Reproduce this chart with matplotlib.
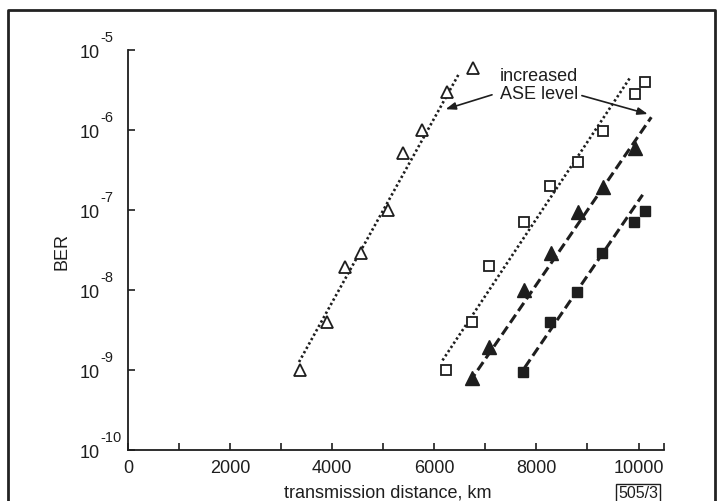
import numpy as np
import matplotlib
matplotlib.use('Agg')
import matplotlib.pyplot as plt
from matplotlib.lines import Line2D
from matplotlib.ticker import FixedLocator, FixedFormatter, NullLocator

plt.rcParams['font.family'] = ['Liberation Sans', 'DejaVu Sans']

INK = '#1e1e1e'

# open triangles
tri_open_km = [3370, 3890, 4250, 4560, 5090, 5380, 5750, 6240, 6750]
tri_open_logber = [-9.0, -8.40, -7.71, -7.54, -7.0, -6.29, -6.0, -5.52, -5.22]
tri_open_fit_km = [3350, 6480]
tri_open_fit_logber = [-8.90, -5.30]

# open squares
sq_open_km = [6220, 6730, 7080, 7750, 8260, 8810, 9300, 9940, 10120]
sq_open_logber = [-9.0, -8.40, -7.70, -7.15, -6.70, -6.40, -6.01, -5.55, -5.40]
sq_open_fit_km = [6160, 9840]
sq_open_fit_logber = [-8.88, -5.34]

# filled triangles
tri_fill_km = [6730, 7080, 7750, 8280, 8810, 9300, 9940]
tri_fill_logber = [-9.10, -8.71, -8.0, -7.54, -7.03, -6.71, -6.22]
tri_fill_fit_km = [6690, 10250]
tri_fill_fit_logber = [-9.15, -5.84]

# filled squares
sq_fill_km = [7730, 8260, 8790, 9280, 9920, 10120]
sq_fill_logber = [-9.03, -8.40, -8.03, -7.54, -7.15, -7.01]
sq_fill_fit_km = [7770, 10080]
sq_fill_fit_logber = [-8.97, -6.81]

x_major = [0, 2000, 4000, 6000, 8000, 10000]
x_minor = [1000, 3000, 5000, 7000, 9000, 10500]
y_decades = [-10, -9, -8, -7, -6, -5]

fig = plt.figure(figsize=(7.23, 5.01), dpi=100)
ax = fig.add_axes([0.177, 0.1018, 0.7415, 0.7984])

dotted = (0, (0.9, 1.0))
dashed = (0, (3.2, 1.5))

ax.plot(tri_open_fit_km, 10.0 ** np.array(tri_open_fit_logber), color=INK, lw=1.9, ls=dotted)
ax.plot(sq_open_fit_km, 10.0 ** np.array(sq_open_fit_logber), color=INK, lw=1.9, ls=dotted)
ax.plot(tri_fill_fit_km, 10.0 ** np.array(tri_fill_fit_logber), color=INK, lw=2.2, ls=dashed)
ax.plot(sq_fill_fit_km, 10.0 ** np.array(sq_fill_fit_logber), color=INK, lw=2.2, ls=dashed)

ax.plot(tri_open_km, 10.0 ** np.array(tri_open_logber), ls='none', marker='^', ms=8,
        mfc='white', mec=INK, mew=1.3)
ax.plot(sq_open_km, 10.0 ** np.array(sq_open_logber), ls='none', marker='s', ms=7,
        mfc='white', mec=INK, mew=1.3)
ax.plot(tri_fill_km, 10.0 ** np.array(tri_fill_logber), ls='none', marker='^', ms=9.5,
        mfc=INK, mec=INK)
ax.plot(sq_fill_km, 10.0 ** np.array(sq_fill_logber), ls='none', marker='s', ms=7.3,
        mfc=INK, mec=INK)

ax.set_yscale('log')
ax.set_xlim(0, 10500)
ax.set_ylim(1e-10, 1e-5)

ax.xaxis.set_major_locator(FixedLocator(x_major))
ax.xaxis.set_minor_locator(FixedLocator(x_minor))
ax.yaxis.set_major_locator(FixedLocator([10.0 ** d for d in y_decades]))
ax.yaxis.set_minor_locator(NullLocator())
ax.yaxis.set_major_formatter(FixedFormatter([''] * len(y_decades)))

ax.tick_params(axis='both', which='both', direction='in', color=INK, width=1.2,
               labelcolor=INK, labelsize=13)
ax.tick_params(axis='x', which='both', length=5, pad=7)
ax.tick_params(axis='y', which='major', length=5, pad=9)

# y tick labels written as "10" with a raised exponent, like the print
ytrans = ax.get_yaxis_transform()
for d in y_decades:
    ax.annotate('10', xy=(0, 10.0 ** d), xycoords=ytrans, xytext=(-20.5, -2.2),
                textcoords='offset points', ha='right', va='center', fontsize=13,
                color=INK, annotation_clip=False)
    ax.annotate('%d' % d, xy=(0, 10.0 ** d), xycoords=ytrans, xytext=(-20, 8.8),
                textcoords='offset points', ha='left', va='center', fontsize=10.5,
                color=INK, annotation_clip=False)

for s in ['top', 'right']:
    ax.spines[s].set_visible(False)
for s in ['left', 'bottom']:
    ax.spines[s].set_color(INK)
    ax.spines[s].set_linewidth(1.3)

ax.set_ylabel('BER', fontsize=13, color=INK)
ax.yaxis.set_label_coords(-0.108, 0.495)
ax.set_xlabel('transmission distance, km', fontsize=13, color=INK, va='center')
ax.xaxis.set_label_coords(0.485, -0.108)

# annotation
ax.text(8050, 10 ** -5.44, 'increased\nASE level', ha='center', va='center',
        fontsize=13, color=INK, linespacing=1.1)
arrow = dict(arrowstyle='-|>,head_length=0.6,head_width=0.22', lw=1.2, color=INK,
             shrinkA=0, shrinkB=0)
ax.annotate('', xy=(6220, 10 ** -5.74), xytext=(7130, 10 ** -5.56), arrowprops=arrow)
ax.annotate('', xy=(10180, 10 ** -5.80), xytext=(8890, 10 ** -5.57), arrowprops=arrow)

# figure code in box
fig.text(638 / 723, 1 - 494 / 501, '505/3', ha='center', va='center', fontsize=11.5,
         color=INK, bbox=dict(boxstyle='square,pad=0.15', fc='white', ec=INK, lw=1.0))

# scan frame
fig.add_artist(Line2D([0.011, 0.011, 0.989, 0.989], [0.0, 0.980, 0.980, 0.0],
                      transform=fig.transFigure, color='#222222', lw=2.0))

fig.savefig('out.png', dpi=100)
